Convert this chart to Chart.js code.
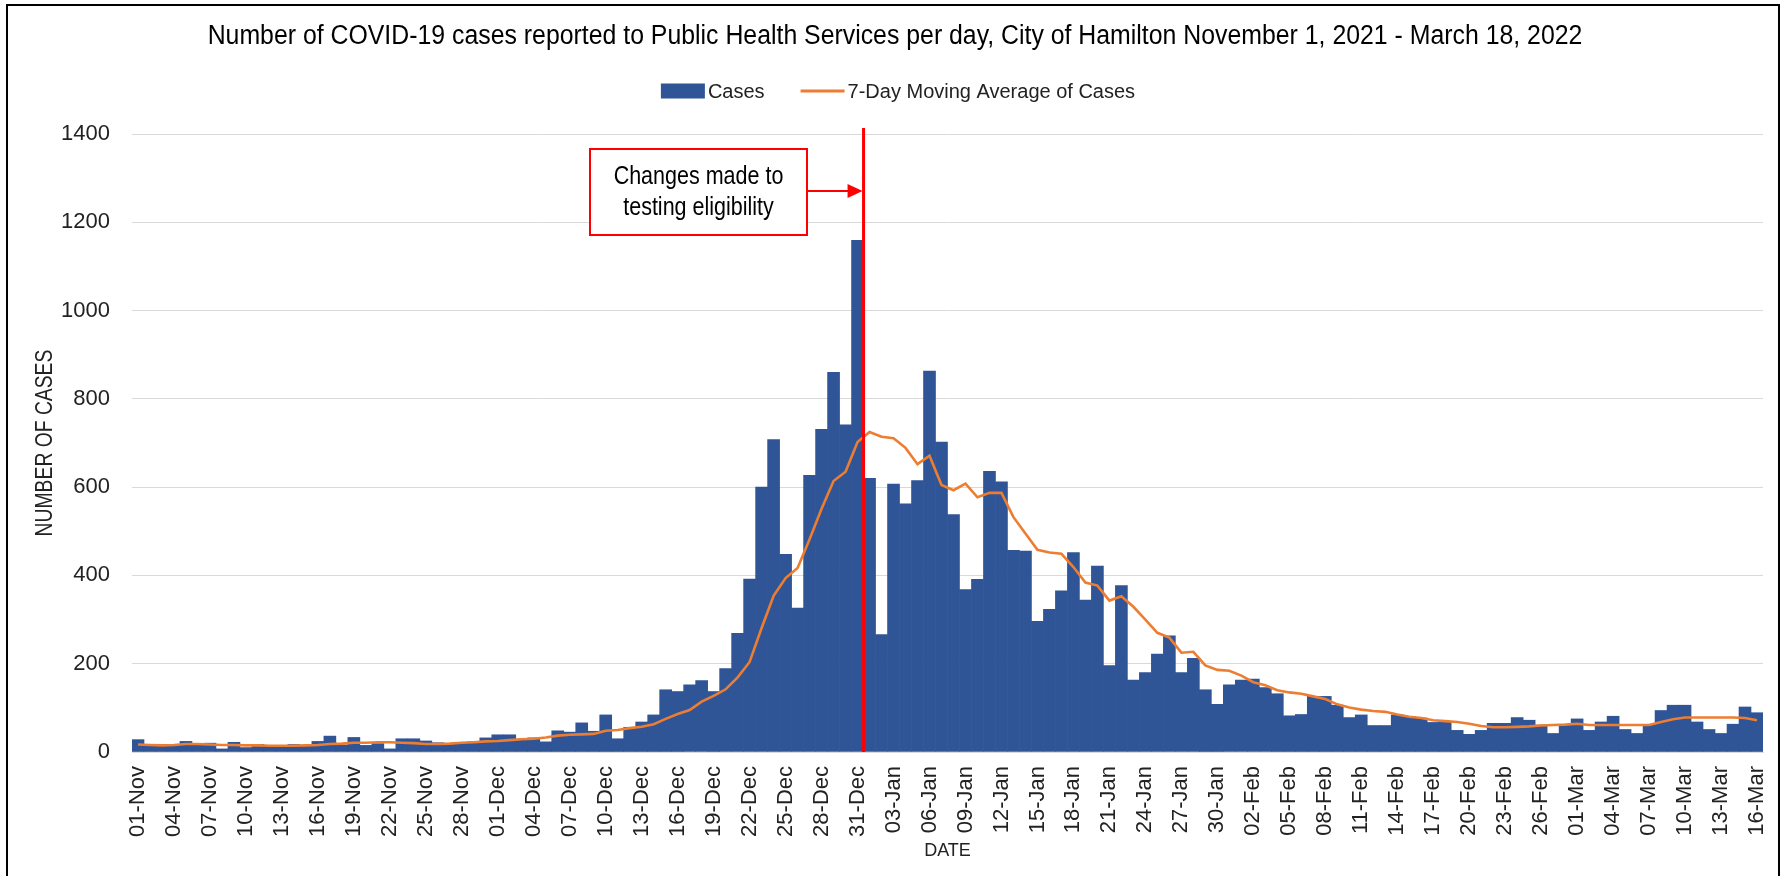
<!DOCTYPE html>
<html lang="en">
<head>
    <meta charset="UTF-8">
    <title>COVID-19 cases, City of Hamilton</title>
    <script src="https://cdn.jsdelivr.net/npm/chart.js"></script>
    <style>
        body { margin: 0; background: #fff; }
        #wrap { position: relative; width: 1785px; height: 876px; }
        #frame {
            position: absolute; left: 6px; top: 4px; width: 1770px; height: 870px;
            border-left: 2px solid #000; border-top: 2px solid #000; border-right: 2px solid #000;
            border-bottom: 1px solid #d0d0d0; pointer-events: none;
        }
    </style>
</head>
<body>
<div id="wrap">
    <canvas id="casesChart" width="1785" height="876"></canvas>
    <div id="frame"></div>
</div>

<script>
    // months covered, with number of days shown (Nov 1 2021 - Mar 16 2022)
    const months = [['Nov', 30], ['Dec', 31], ['Jan', 31], ['Feb', 28], ['Mar', 16]];
    const dates = [];
    months.forEach(([m, n]) => {
        for (let d = 1; d <= n; d++) dates.push(String(d).padStart(2, '0') + '-' + m);
    });

    // daily cases
    const cases = [
        28, 15, 15, 15, 24, 17, 20, 7, 22, 10, 17, 13, 12, 17, 15, 24, 36, 16, 33, 15, 19, 7, 30, 30, 25, 21, 18, 20, 23, 32,
        39, 39, 29, 32, 23, 48, 45, 66, 47, 84, 30, 56, 68, 84, 141, 137, 152, 162, 137, 189, 269, 392, 600, 708, 448, 326, 627, 731, 860, 741, 1159,
        620, 266, 607, 562, 615, 863, 702, 538, 368, 391, 636, 612, 457, 455, 296, 323, 365, 452, 344, 421, 196, 377, 163, 180, 222, 263, 180, 212, 141, 108, 152,
        163, 165, 146, 132, 82, 85, 126, 126, 106, 78, 84, 60, 60, 84, 80, 77, 67, 68, 49, 40, 49, 65, 65, 78, 72, 61, 42, 61,
        75, 49, 68, 81, 51, 42, 61, 94, 106, 106, 68, 51, 42, 63, 102, 89
    ];

    // 7-day moving average
    const movingAvg = [
        17, 16, 15, 16, 18, 18, 17, 16, 16, 15, 15, 14, 14, 14, 15, 16, 18, 19, 21, 21, 22, 22, 21, 20, 18, 18, 19, 21, 22, 24,
        25, 27, 29, 30, 33, 37, 39, 40, 41, 48, 50, 54, 57, 63, 75, 86, 95, 114, 127, 142, 169, 204, 281, 354, 394, 417, 482, 551, 614, 635, 702,
        725, 714, 711, 689, 652, 671, 605, 593, 608, 577, 587, 587, 532, 495, 458, 452, 449, 419, 384, 377, 343, 353, 329, 300, 270, 259, 225, 227, 196, 186, 184,
        173, 158, 151, 140, 135, 132, 126, 120, 108, 101, 96, 93, 91, 85, 80, 77, 72, 70, 68, 64, 59, 56, 56, 57, 58, 60, 61, 62,
        64, 61, 61, 61, 61, 61, 61, 68, 74, 78, 78, 78, 78, 78, 77, 72
    ];

    const yTicks = [0, 200, 400, 600, 800, 1000, 1200, 1400];
    const changeIndex = 60; // 31-Dec, testing eligibility changed after this day

    const titleText = 'Number of COVID-19 cases reported to Public Health Services per day, City of Hamilton November 1, 2021 - March 18, 2022';
    const yTitle = 'NUMBER OF CASES';
    const legendItems = [
        { text: 'Cases', kind: 'box' },
        { text: '7-Day Moving Average of Cases', kind: 'line' }
    ];

    const BLUE = '#2f5597';
    const ORANGE = '#ed7d31';
    const RED = '#ff0000';
    const FONT = "'Liberation Sans', Arial, sans-serif";

    // condensed text helper (Arial Narrow look)
    function narrowText(ctx, text, x, y, size, squeeze, rot) {
        ctx.save();
        ctx.font = size + 'px ' + FONT;
        ctx.textAlign = 'center';
        ctx.textBaseline = 'middle';
        ctx.translate(x, y);
        if (rot) ctx.rotate(rot);
        ctx.scale(squeeze, 1);
        ctx.fillText(text, 0, 0);
        ctx.restore();
    }

    // title, legend and y-axis title
    const header = {
        id: 'header',
        afterDraw(chart) {
            const { ctx, chartArea } = chart;
            ctx.save();
            ctx.fillStyle = '#000';
            narrowText(ctx, titleText, 895, 37, 27, 0.92);

            ctx.fillStyle = '#222';
            narrowText(ctx, yTitle, 46, (chartArea.top + chartArea.bottom) / 2, 23, 0.84, -Math.PI / 2);

            ctx.font = '20px ' + FONT;
            ctx.textBaseline = 'middle';
            ctx.textAlign = 'left';
            const sw = 44, gap = 3, between = 36, ly = 91;
            const widths = legendItems.map(it => ctx.measureText(it.text).width);
            const total = widths.reduce((a, w) => a + sw + gap + w, 0) + between;
            let x = 898 - total / 2;
            legendItems.forEach((it, i) => {
                if (it.kind === 'box') {
                    ctx.fillStyle = BLUE;
                    ctx.fillRect(x, ly - 7.5, sw, 15);
                } else {
                    ctx.strokeStyle = ORANGE;
                    ctx.lineWidth = 3;
                    ctx.beginPath();
                    ctx.moveTo(x, ly);
                    ctx.lineTo(x + sw, ly);
                    ctx.stroke();
                }
                ctx.fillStyle = '#222';
                ctx.fillText(it.text, x + sw + gap, ly + 1);
                x += sw + gap + widths[i] + between;
            });
            ctx.restore();
        }
    };

    // red line + callout box
    const eligibilityNote = {
        id: 'eligibilityNote',
        afterDatasetsDraw(chart) {
            const { ctx, chartArea, scales } = chart;
            const x = (scales.x.getPixelForValue(changeIndex) + scales.x.getPixelForValue(changeIndex + 1)) / 2;
            ctx.save();
            ctx.strokeStyle = RED;
            ctx.lineWidth = 3;
            ctx.beginPath();
            ctx.moveTo(x, 128);
            ctx.lineTo(x, chartArea.bottom);
            ctx.stroke();

            // box
            const bx = 590, by = 149, bw = 217, bh = 86;
            ctx.fillStyle = '#fff';
            ctx.fillRect(bx, by, bw, bh);
            ctx.lineWidth = 2;
            ctx.strokeRect(bx, by, bw, bh);
            ctx.fillStyle = '#000';
            narrowText(ctx, 'Changes made to', bx + bw / 2, 177, 25, 0.86);
            narrowText(ctx, 'testing eligibility', bx + bw / 2, 208, 25, 0.86);

            // arrow
            const ay = 191;
            ctx.lineWidth = 2;
            ctx.beginPath();
            ctx.moveTo(bx + bw, ay);
            ctx.lineTo(x - 14, ay);
            ctx.stroke();
            ctx.fillStyle = RED;
            ctx.beginPath();
            ctx.moveTo(x - 1, ay);
            ctx.lineTo(x - 16, ay - 7);
            ctx.lineTo(x - 16, ay + 7);
            ctx.closePath();
            ctx.fill();
            ctx.restore();
        }
    };

    const ctx = document.getElementById('casesChart').getContext('2d');
    new Chart(ctx, {
        type: 'bar',
        data: {
            labels: dates,
            datasets: [
                {
                    type: 'bar', label: 'Cases', data: cases, order: 2,
                    backgroundColor: BLUE, borderColor: BLUE, borderWidth: 0,
                    barPercentage: 1.0, categoryPercentage: 1.0
                },
                {
                    type: 'line', label: '7-Day Moving Average of Cases', data: movingAvg, order: 1,
                    borderColor: ORANGE, borderWidth: 2.6, pointRadius: 0, tension: 0, fill: false
                }
            ]
        },
        options: {
            responsive: false,
            animation: false,
            devicePixelRatio: 1,
            layout: { padding: { left: 0, right: 22, top: 134, bottom: 0 } },
            plugins: {
                tooltip: { enabled: false },
                title: { display: false },
                legend: { display: false }
            },
            scales: {
                x: {
                    offset: true,
                    grid: { display: false, drawTicks: true, tickLength: 14 },
                    border: { color: '#d9d9d9' },
                    ticks: {
                        autoSkip: false,
                        minRotation: 90,
                        maxRotation: 90,
                        padding: 0,
                        color: '#222',
                        font: { family: FONT, size: 22 },
                        callback: function (val, i) { return i % 3 === 0 ? dates[i] : ''; }
                    },
                    title: {
                        display: true, text: 'DATE', color: '#222',
                        font: { family: FONT, size: 18 },
                        padding: { top: 0, bottom: 14 }
                    },
                    afterFit: (scale) => { scale.height = 124; }
                },
                y: {
                    min: 0,
                    max: 1400,
                    grid: { color: '#d9d9d9', drawTicks: false },
                    border: { display: false },
                    afterBuildTicks: (scale) => { scale.ticks = yTicks.map(v => ({ value: v })); },
                    ticks: {
                        padding: 22,
                        color: '#222',
                        font: { family: FONT, size: 22 },
                        callback: (v) => String(v)
                    },
                    title: { display: false },
                    afterFit: (scale) => { scale.width = 132; }
                }
            }
        },
        plugins: [eligibilityNote, header]
    });
</script>
</body>
</html>
